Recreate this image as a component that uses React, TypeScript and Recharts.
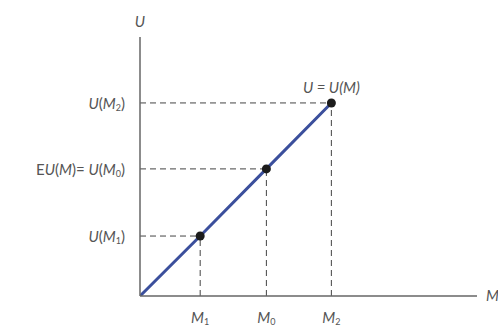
import { ComposedChart, Line, XAxis, YAxis, ReferenceLine, ReferenceDot } from 'recharts';

// wealth levels M1, M0, M2 and utilities U(M1), EU(M)=U(M0), U(M2)
const mValues = [0, 1.0, 2.1, 3.18];
const uValues = [0, 1.0, 2.12, 3.22];
const subs = ['1', '0', '2'];
const xMax = 5.6;
const yMax = 4.32;

const data = mValues.map((m, i) => ({ m, u: uValues[i] }));

const FONT = 'Lato, "Open Sans", sans-serif';
const INK = '#555';

const XTick = ({ x, y, index }: any) => (
  <text x={x} y={y + 13} textAnchor="middle" dominantBaseline="central" fontFamily={FONT} fontSize={15} fill={INK} fontStyle="italic">
    M<tspan dy={4} fontSize={9} fontStyle="normal">{subs[index]}</tspan>
  </text>
);

const YTick = ({ x, y, index }: any) => (
  <text x={x - 7} y={y} textAnchor="end" dominantBaseline="central" fontFamily={FONT} fontSize={15} fill={INK}>
    {index === 1 && <tspan>E</tspan>}
    {index === 1 && <tspan fontStyle="italic">U</tspan>}
    {index === 1 && <tspan>(</tspan>}
    {index === 1 && <tspan fontStyle="italic">M</tspan>}
    {index === 1 && <tspan>)= </tspan>}
    <tspan fontStyle="italic">U</tspan>
    <tspan>(</tspan>
    <tspan fontStyle="italic">M</tspan>
    <tspan dy={4} fontSize={9}>{subs[index]}</tspan>
    <tspan dy={-4}>)</tspan>
  </text>
);

const renderDot = (props: any) => {
  const { cx, cy, index } = props;
  if (index === 0) return <g key={`d${index}`} />;
  return <circle key={`d${index}`} cx={cx} cy={cy} r={4.5} fill="#1c1c1c" />;
};

const dashed = { stroke: '#444', strokeWidth: 1, strokeDasharray: '6 4' };

export default function App() {
  const points = data.slice(1);
  return (
    <div style={{ position: 'absolute', left: 0, top: 0, background: '#fff' }}>
      <ComposedChart width={498} height={326} data={data} margin={{ top: 37, right: 21, bottom: 0, left: 0 }}>
        <XAxis
          dataKey="m"
          type="number"
          domain={[0, xMax]}
          ticks={mValues.slice(1)}
          tick={<XTick />}
          tickLine={false}
          axisLine={{ stroke: '#666', strokeWidth: 1.5 }}
          height={30}
          allowDataOverflow
        />
        <YAxis
          dataKey="u"
          type="number"
          domain={[0, yMax]}
          ticks={uValues.slice(1)}
          tick={<YTick />}
          tickLine={false}
          axisLine={{ stroke: '#666', strokeWidth: 1.5 }}
          width={140}
          allowDataOverflow
        />
        {points.map((p, i) => (
          <ReferenceLine key={`h${i}`} segment={[{ x: 0, y: p.u }, { x: p.m, y: p.u }]} {...dashed} />
        ))}
        {points.map((p, i) => (
          <ReferenceLine key={`v${i}`} segment={[{ x: p.m, y: 0 }, { x: p.m, y: p.u }]} {...dashed} />
        ))}
        <Line
          type="linear"
          dataKey="u"
          stroke="#3b4f9c"
          strokeWidth={3}
          dot={renderDot}
          activeDot={false}
          isAnimationActive={false}
        />
        <ReferenceDot
          x={0}
          y={yMax}
          r={0}
          ifOverflow="visible"
          label={{ value: 'U', position: 'top', offset: 10, fill: INK, fontSize: 15, fontStyle: 'italic', fontFamily: FONT }}
        />
        <ReferenceDot
          x={xMax}
          y={0}
          r={0}
          ifOverflow="visible"
          label={{ value: 'M', position: 'right', offset: 9, fill: INK, fontSize: 15, fontStyle: 'italic', fontFamily: FONT }}
        />
        <ReferenceDot
          x={mValues[3]}
          y={uValues[3]}
          r={0}
          ifOverflow="visible"
          label={{ value: 'U = U(M)', position: 'top', offset: 10, fill: INK, fontSize: 15, fontStyle: 'italic', fontFamily: FONT }}
        />
      </ComposedChart>
    </div>
  );
}
